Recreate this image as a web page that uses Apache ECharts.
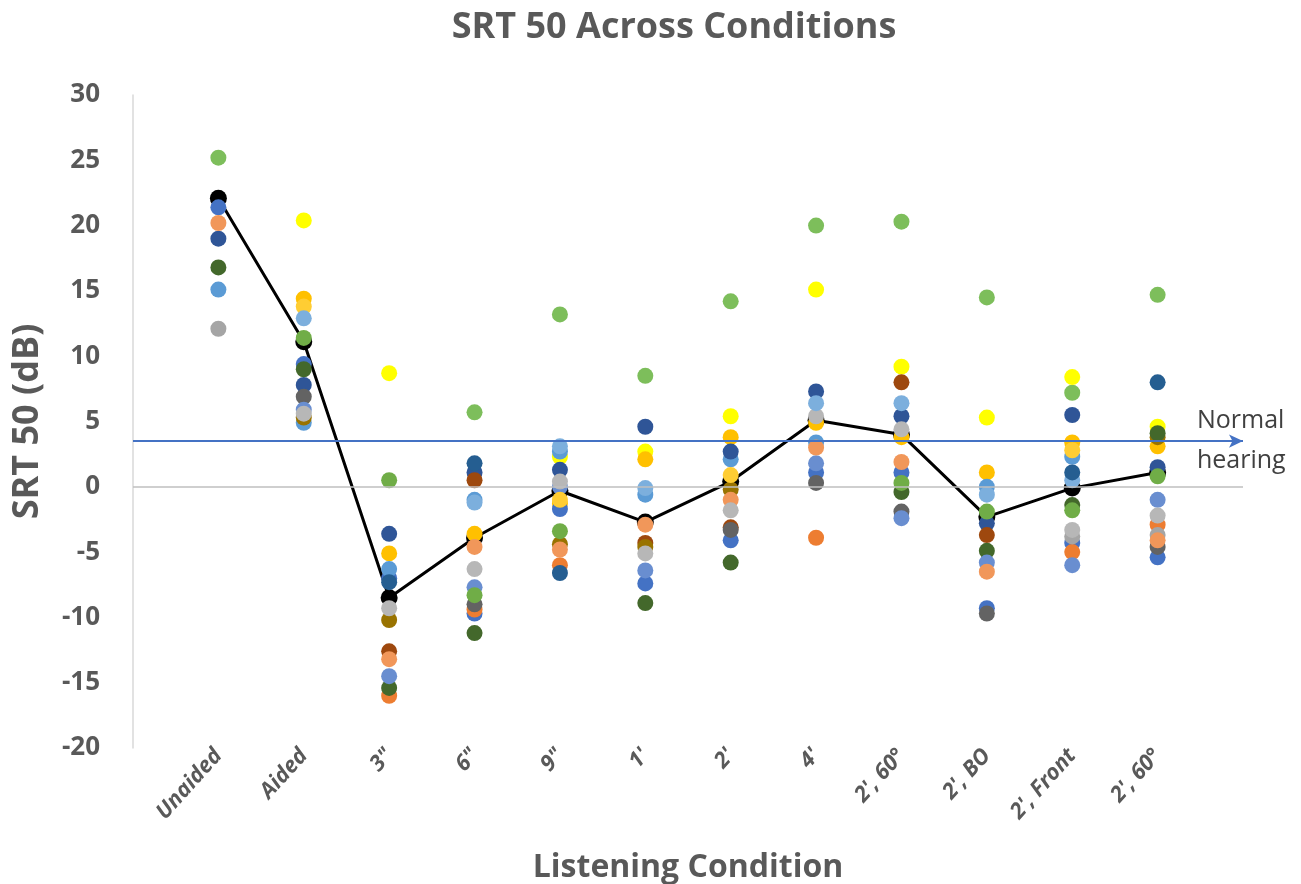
<!DOCTYPE html>
<html>
<head>
<meta charset="utf-8">
<script src="https://cdn.jsdelivr.net/npm/echarts@6/dist/echarts.min.js"></script>
<style>
  html, body { margin: 0; padding: 0; background: #fff; }
  #chart { width: 1301px; height: 884px; }
</style>
</head>
<body>
<div id="chart"></div>
<script>
// listening conditions (x positions 1..12)
const conditions = ["Unaided", "Aided", "3\"", "6\"", "9\"", "1'", "2'", "4'", "2', 60°", "2', BO", "2', Front", "2', 60°"];
const yTicks = [-20, 30, 5];
const normalHearing = 3.5;

// group mean (black line)
const meanSrt = [22.1, 11.1, -8.5, -3.9, -0.3, -2.7, 0.4, 5.1, 4.0, -2.3, -0.1, 1.1];

// individual listeners, one value per condition (null = not shown)
const s1  = [25.2, null, null, 5.7, 13.2, 8.5, 14.2, 20.0, 20.3, 14.5, 7.2, 14.7];
const s2  = [null, 20.4, 8.7, null, 2.3, 2.7, 5.4, 15.1, 9.2, 5.3, 8.4, 4.6];
const s3  = [null, 14.4, -5.1, -3.6, -1.3, 2.1, 3.8, 4.9, 3.8, 1.1, 3.4, 3.1];
const s4  = [21.4, 9.4, -7.0, -9.7, -1.7, -7.4, -4.1, 1.1, 1.1, -9.3, -4.3, -5.4];
const s5  = [null, null, -16.0, -9.4, -6.0, null, null, -3.9, null, null, -5.0, -2.9];
const s6  = [12.1, null, null, null, null, null, null, null, null, null, -3.8, -3.7];
const s7  = [15.1, 4.9, -6.3, -1.0, 2.7, -0.6, 2.1, 3.4, null, 0.0, 2.3, null];
const s8  = [19.0, 7.8, -3.6, 1.1, 1.3, 4.6, 2.7, 7.3, 5.4, -2.8, 5.5, 1.5];
const s9  = [null, null, -12.6, 0.5, null, -4.3, -3.1, null, 8.0, -3.7, null, null];
const s10 = [null, 6.9, null, -9.0, null, null, -3.3, 0.3, -1.9, -9.7, null, -4.6];
const s11 = [null, 5.3, -10.2, null, -4.4, -4.6, -0.2, null, null, null, null, 3.8];
const s12 = [16.8, 9.0, -15.4, -11.2, null, -8.9, -5.8, null, -0.4, -4.9, -1.4, 4.1];
const s13 = [null, 5.9, -14.5, -7.7, 0.0, -6.4, null, 1.8, -2.4, -5.8, -6.0, -1.0];
const s14 = [20.2, null, -13.2, -4.6, -4.8, -2.9, -1.0, 3.0, 1.9, -6.5, null, -4.1];
const s15 = [null, 5.6, -9.3, -6.3, 0.4, -5.1, -1.8, 5.4, 4.4, null, -3.3, -2.2];
const s16 = [null, 13.8, null, null, -1.0, null, 0.9, null, null, null, 2.8, null];
const s17 = [null, 12.9, null, -1.2, 3.1, -0.1, null, 6.4, 6.4, -0.6, 0.5, null];
const s18 = [null, null, -7.3, 1.8, -6.6, null, null, null, null, null, 1.1, 8.0];
const s19 = [null, 11.4, 0.5, -8.3, -3.4, null, null, null, 0.3, -1.9, -1.8, 0.8];

const listeners = [s1, s2, s3, s4, s5, s6, s7, s8, s9, s10, s11, s12, s13, s14, s15, s16, s17, s18, s19];
const listenerColors = ["#7DBE5B", "#FFFF00", "#FFC000", "#4472C4", "#ED7D31", "#A5A5A5", "#5B9BD5",
  "#2F5597", "#9E480E", "#636363", "#997300", "#43682B", "#698ED0", "#F1975A", "#B7B7B7",
  "#FFCD33", "#7CAFDD", "#255E91", "#70AD47"];

const chart = echarts.init(document.getElementById("chart"));

const toPoints = arr => arr.map((v, i) => [i + 1, v]).filter(p => p[1] !== null);

const scatterSeries = listeners.map((arr, i) => ({
  type: "scatter",
  data: toPoints(arr),
  symbolSize: 16,
  itemStyle: { color: listenerColors[i], opacity: 1 },
  z: 3,
  silent: true
}));

const option = {
  animation: false,
  textStyle: { fontFamily: "Open Sans" },
  title: {
    text: "SRT 50 Across Conditions",
    left: 669,
    textAlign: "center",
    top: 5,
    textStyle: { fontSize: 36, fontWeight: "bold", color: "#595959", fontFamily: "Open Sans" }
  },
  grid: { left: 133, right: 58, top: 95, bottom: 136, outerBoundsMode: "none", containLabel: false },
  xAxis: {
    type: "value",
    min: 0,
    max: 13,
    interval: 1,
    name: "Listening Condition",
    nameLocation: "middle",
    nameGap: 104,
    nameTextStyle: { fontSize: 32, fontWeight: "bold", color: "#595959" },
    axisLine: { show: false, onZero: false },
    axisTick: { show: false },
    splitLine: { show: false },
    axisLabel: {
      rotate: 48,
      margin: 4,
      fontSize: 22,
      fontWeight: "bold",
      fontStyle: "italic",
      color: "#595959",
      formatter: v => (v >= 1 && v <= conditions.length ? conditions[v - 1] : "")
    }
  },
  yAxis: {
    type: "value",
    min: yTicks[0],
    max: yTicks[1],
    interval: yTicks[2],
    name: "SRT 50 (dB)",
    nameLocation: "middle",
    nameGap: 87,
    nameTextStyle: { fontSize: 36, fontWeight: "bold", color: "#595959" },
    axisLine: { show: true, lineStyle: { color: "#d9d9d9", width: 1.5 } },
    axisTick: { show: false },
    splitLine: { show: false },
    axisLabel: { fontSize: 26, fontWeight: "bold", color: "#595959", margin: 33 }
  },
  series: [
    {
      // zero reference line
      type: "line",
      data: [],
      silent: true,
      markLine: {
        silent: true,
        symbol: ["none", "none"],
        label: { show: false },
        lineStyle: { color: "#bfbfbf", width: 1.5, type: "solid" },
        data: [{ yAxis: 0 }]
      }
    },
    {
      // normal hearing arrow
      type: "line",
      data: [],
      silent: true,
      markLine: {
        silent: true,
        symbol: ["none", "arrow"],
        symbolSize: [10, 14],
        lineStyle: { color: "#4472C4", width: 2, type: "solid" },
        label: {
          show: true,
          position: "end",
          distance: -46,
          formatter: "Normal\nhearing",
          fontSize: 25,
          lineHeight: 40,
          padding: [14, 0, 0, 0],
          color: "#404040",
          align: "left"
        },
        data: [{ yAxis: normalHearing }]
      }
    },
    ...scatterSeries,
    {
      type: "line",
      data: toPoints(meanSrt),
      symbol: "circle",
      symbolSize: 17,
      lineStyle: { color: "#000", width: 3 },
      itemStyle: { color: "#000" },
      z: 2,
      silent: true
    }
  ]
};

chart.setOption(option);
</script>
</body>
</html>
